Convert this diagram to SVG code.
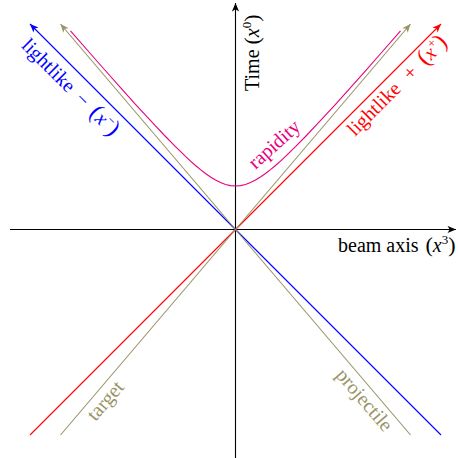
<svg xmlns="http://www.w3.org/2000/svg" width="458" height="458" viewBox="0 0 458 458">
<style>
.lbl { font-family: "Liberation Serif", "Times New Roman", serif; font-size: 20px; }
.it { font-style: italic; }
.ln { fill: none; stroke-width: 1.1; }
</style>
<defs>
<marker id="ak" markerUnits="userSpaceOnUse" markerWidth="10" markerHeight="8" viewBox="-9 -4 10 8" refX="0" refY="0" orient="auto"><path d="M0,0 L-8.5,-3.6 L-6.3,0 L-8.5,3.6 Z" fill="#000"/></marker>
<marker id="ab" markerUnits="userSpaceOnUse" markerWidth="10" markerHeight="8" viewBox="-9 -4 10 8" refX="0" refY="0" orient="auto"><path d="M0,0 L-8.5,-3.6 L-6.3,0 L-8.5,3.6 Z" fill="#0000ff"/></marker>
<marker id="ar" markerUnits="userSpaceOnUse" markerWidth="10" markerHeight="8" viewBox="-9 -4 10 8" refX="0" refY="0" orient="auto"><path d="M0,0 L-8.5,-3.6 L-6.3,0 L-8.5,3.6 Z" fill="#ff0000"/></marker>
<marker id="ao" markerUnits="userSpaceOnUse" markerWidth="10" markerHeight="8" viewBox="-9 -4 10 8" refX="0" refY="0" orient="auto"><path d="M0,0 L-8.5,-3.6 L-6.3,0 L-8.5,3.6 Z" fill="#999466"/></marker>
</defs>
<rect width="458" height="458" fill="#fff"/>
<g id="connectors">
<line id="time-axis" class="ln" x1="235.5" y1="458" x2="235.5" y2="3" stroke="#000" marker-end="url(#ak)"/>
<line id="beam-axis" class="ln" x1="10" y1="229.5" x2="456" y2="229.5" stroke="#000" marker-end="url(#ak)"/>
<line id="lightlike-minus" class="ln" x1="441" y1="435" x2="30" y2="24" stroke="#0000ff" marker-end="url(#ab)"/>
<line id="lightlike-plus" class="ln" x1="30" y1="435" x2="441" y2="24" stroke="#ff0000" marker-end="url(#ar)"/>
<line id="projectile-line" class="ln" x1="410.5" y1="435" x2="60.5" y2="24" stroke="#999466" marker-end="url(#ao)"/>
<line id="target-line" class="ln" x1="60.5" y1="435" x2="410.5" y2="24" stroke="#999466" marker-end="url(#ao)"/>
<path id="rapidity-curve" class="ln" stroke="#e6007e" d="M70.5,30.92 L90.5,53.76 L105.5,70.76 L120.5,87.63 L135.5,104.27 L145.5,115.21 L155.5,125.98 L165.5,136.5 L175.5,146.69 L185.5,156.42 L190.5,161.05 L195.5,165.48 L200.5,169.65 L205.5,173.52 L210.5,177.02 L215.5,180.06 L220.5,182.57 L225.5,184.44 L230.5,185.61 L235.5,186 L240.5,185.61 L245.5,184.44 L250.5,182.57 L255.5,180.06 L260.5,177.02 L265.5,173.52 L270.5,169.65 L275.5,165.48 L280.5,161.05 L285.5,156.42 L295.5,146.69 L305.5,136.5 L315.5,125.98 L325.5,115.21 L335.5,104.27 L350.5,87.63 L365.5,70.76 L380.5,53.76 L400.5,30.92"/>
</g>
<g id="label-time">
<text class="lbl" transform="translate(258.5,91) rotate(-90)" fill="#000">Time<tspan dx="5" font-size="22">(</tspan><tspan class="it">x</tspan><tspan font-size="13" dy="-8">0</tspan><tspan font-size="22" dy="8">)</tspan></text>
</g>
<g id="label-beam">
<text class="lbl" x="338" y="252" fill="#000">beam axis<tspan dx="7" font-size="22">(</tspan><tspan class="it">x</tspan><tspan font-size="13" dy="-8">3</tspan><tspan font-size="22" dy="8">)</tspan></text>
</g>
<g id="label-lightlike-minus">
<text class="lbl" transform="translate(20.5,46.5) rotate(45)" fill="#0000ff">lightlike<tspan dx="9">−</tspan><tspan dx="9" font-size="24">(</tspan><tspan class="it">x</tspan><tspan font-size="13" dy="-8">−</tspan><tspan font-size="24" dy="8">)</tspan></text>
</g>
<g id="label-lightlike-plus">
<text class="lbl" transform="translate(355,137) rotate(-45)" fill="#ff0000">lightlike<tspan dx="12">+</tspan><tspan dx="10" font-size="24">(</tspan><tspan class="it">x</tspan><tspan font-size="13" dy="-8">+</tspan><tspan font-size="24" dy="8">)</tspan></text>
</g>
<g id="label-rapidity">
<text class="lbl" transform="translate(255.5,170) rotate(-42)" fill="#e6007e">rapidity</text>
</g>
<g id="label-target">
<text class="lbl" transform="translate(95.5,422) rotate(-49.4)" fill="#999466">target</text>
</g>
<g id="label-projectile">
<text class="lbl" transform="translate(335,375.5) rotate(49.4)" fill="#999466">projectile</text>
</g>
</svg>
